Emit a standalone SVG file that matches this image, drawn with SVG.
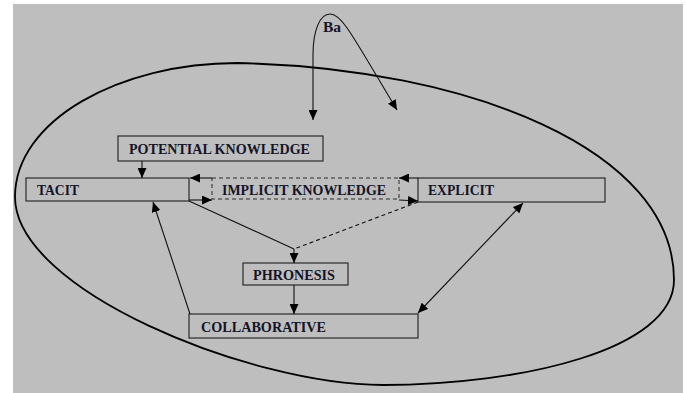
<svg xmlns="http://www.w3.org/2000/svg" width="686" height="393" viewBox="0 0 686 393">
<style>
.box{fill:#bebebe;stroke:#2a2a2a;stroke-width:1.2}
.dbox{fill:#bebebe;stroke:#2a2a2a;stroke-width:1;stroke-dasharray:4 3}
.lbl{font-family:"Liberation Serif","Times New Roman",serif;font-weight:bold;font-size:14px;fill:#141428}
.ln{fill:none;stroke:#111;stroke-width:1.1}
.dash{fill:none;stroke:#111;stroke-width:1.1;stroke-dasharray:4 3}
.arr{marker-end:url(#ah)}
</style>
<defs>
<marker id="ah" viewBox="0 0 10 10" refX="10" refY="5" markerWidth="10" markerHeight="9" markerUnits="userSpaceOnUse" orient="auto-start-reverse" preserveAspectRatio="none">
<path d="M0,0 L10,5 L0,10 z" fill="#000"/>
</marker>
</defs>
<rect x="0" y="0" width="686" height="393" fill="#ffffff"/>
<rect x="13" y="4" width="670" height="389" fill="#bebebe"/>

<g id="ba-ellipse">
<path d="M237,63 C470,68 674,150 674,280 C674,350 520,385 383,385 C250,385 15,290 15,197 C15,120 120,63 237,63 Z" fill="none" stroke="#000" stroke-width="1.8"/>
<text class="lbl" x="323" y="32" textLength="18" lengthAdjust="spacingAndGlyphs">Ba</text>
</g>

<g id="node-potential">
<rect class="box" x="118" y="136" width="205" height="25"/>
<text class="lbl" x="129" y="154" textLength="181" lengthAdjust="spacingAndGlyphs">POTENTIAL KNOWLEDGE</text>
</g>
<g id="node-tacit">
<rect class="box" x="26" y="178" width="163" height="23"/>
<text class="lbl" x="37" y="195" textLength="42" lengthAdjust="spacingAndGlyphs">TACIT</text>
</g>
<g id="node-implicit">
<rect class="dbox" x="212" y="178" width="187" height="21"/>
<text class="lbl" x="222" y="195" textLength="164" lengthAdjust="spacingAndGlyphs">IMPLICIT KNOWLEDGE</text>
</g>
<g id="node-explicit">
<rect class="box" x="418" y="178" width="187" height="24"/>
<text class="lbl" x="428" y="195" textLength="66" lengthAdjust="spacingAndGlyphs">EXPLICIT</text>
</g>
<g id="node-phronesis">
<rect class="box" x="243" y="263" width="105" height="22"/>
<text class="lbl" x="253" y="280" textLength="82" lengthAdjust="spacingAndGlyphs">PHRONESIS</text>
</g>
<g id="node-collaborative">
<rect class="box" x="189" y="314" width="229" height="24"/>
<text class="lbl" x="201" y="332" textLength="125" lengthAdjust="spacingAndGlyphs">COLLABORATIVE</text>
</g>

<g id="connectors">
<path class="ln" d="M313,120 L313,55 C313,30 320,14 330,14 C342,14 352,35 397,110" marker-start="url(#ah)" marker-end="url(#ah)"/>
<line class="ln arr" x1="142" y1="161" x2="142" y2="178"/>
<line class="ln arr" x1="212" y1="178" x2="190" y2="178"/>
<line class="ln arr" x1="189" y1="200" x2="212" y2="200"/>
<line class="ln arr" x1="418" y1="178" x2="399" y2="178"/>
<line class="ln arr" x1="399" y1="200" x2="418" y2="201"/>
<line class="ln" x1="189" y1="201" x2="294" y2="249"/>
<line class="dash" x1="418" y1="202" x2="294" y2="249"/>
<line class="ln arr" x1="294" y1="249" x2="294" y2="263"/>
<line class="ln arr" x1="294" y1="285" x2="294" y2="314"/>
<line class="ln arr" x1="190" y1="314" x2="153" y2="202"/>
<line class="ln" x1="418" y1="313" x2="523" y2="203" marker-start="url(#ah)" marker-end="url(#ah)"/>
</g>
</svg>
